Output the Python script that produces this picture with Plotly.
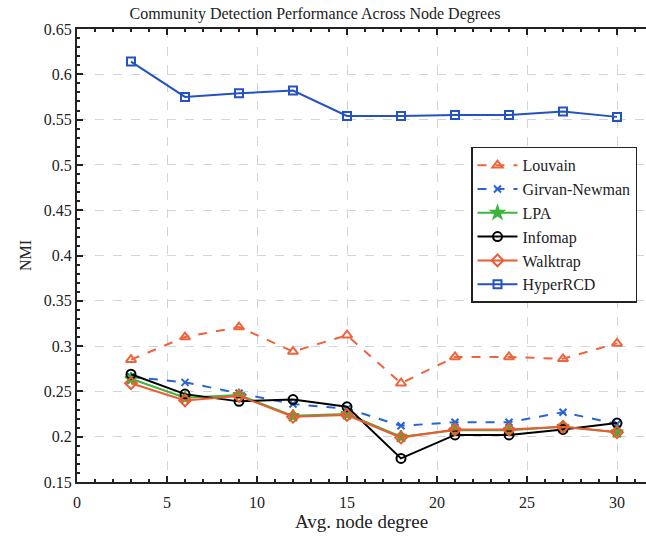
import plotly.graph_objects as go

degrees = [3, 6, 9, 12, 15, 18, 21, 24, 27, 30]
louvain = [0.285, 0.310, 0.321, 0.294, 0.312, 0.259, 0.288, 0.288, 0.286, 0.303]
girvan_newman = [0.266, 0.260, 0.248, 0.236, 0.231, 0.212, 0.216, 0.216, 0.227, 0.214]
lpa = [0.264, 0.243, 0.246, 0.223, 0.225, 0.200, 0.207, 0.207, 0.211, 0.205]
infomap = [0.269, 0.247, 0.239, 0.241, 0.233, 0.176, 0.202, 0.202, 0.208, 0.215]
walktrap = [0.259, 0.240, 0.245, 0.222, 0.224, 0.199, 0.208, 0.208, 0.211, 0.205]
hyperrcd = [0.614, 0.575, 0.579, 0.582, 0.554, 0.554, 0.555, 0.555, 0.559, 0.553]

x_ticks = [0, 5, 10, 15, 20, 25, 30]
y_ticks = [0.15, 0.2, 0.25, 0.3, 0.35, 0.4, 0.45, 0.5, 0.55, 0.6, 0.65]

series = [
    ("Louvain", louvain, "#f0643c", "dash", "triangle-up-open", 9),
    ("Girvan-Newman", girvan_newman, "#2a64d2", "dash", "x-thin-open", 7),
    ("LPA", lpa, "#3cb43c", "solid", "star", 9),
    ("Infomap", infomap, "#000000", "solid", "circle-open", 9),
    ("Walktrap", walktrap, "#f05a32", "solid", "diamond-open", 9),
    ("HyperRCD", hyperrcd, "#2452c0", "solid", "square-open", 8),
]

fig = go.Figure()
for name, vals, color, dash, sym, size in series:
    fig.add_trace(go.Scatter(
        x=degrees, y=vals, name=name, mode="lines+markers",
        line=dict(color=color, width=2, dash=dash),
        marker=dict(symbol=sym, size=size, color=color,
                    line=dict(color=color, width=2)),
    ))

font = "Liberation Serif, DejaVu Serif, serif"
W = 646
L = 77
fig.update_layout(
    width=W, height=538,
    margin=dict(l=L, r=0, t=29, b=56),
    plot_bgcolor="white", paper_bgcolor="white",
    font=dict(family=font, size=16, color="#222222"),
    title=dict(text="Community Detection Performance Across Node Degrees",
               xref="paper", x=(315 - L) / (W - L), xanchor="center",
               y=0.975, yanchor="middle",
               font=dict(size=16, family=font)),
    legend=dict(x=(471 - L) / (W - L), y=0.74, xanchor="left", yanchor="top",
                bgcolor="white", bordercolor="#222222", borderwidth=1.5,
                font=dict(size=16, family=font), tracegroupgap=0,
                itemwidth=40),
    showlegend=True,
)
fig.update_xaxes(
    range=[0, (W - L) / 18.0], tickvals=x_ticks, ticktext=[str(v) for v in x_ticks],
    showline=True, linecolor="#222222", linewidth=2, mirror="ticks",
    ticks="inside", ticklen=6, tickcolor="#222222", tickwidth=1.5,
    ticklabelstandoff=5,
    minor=dict(dtick=1, ticks="inside", ticklen=3, tickcolor="#222222", showgrid=False),
    showgrid=True, gridcolor="#ccd6e0", griddash="dash", gridwidth=1,
    zeroline=False,
    title=dict(text="Avg. node degree", font=dict(size=19, family=font), standoff=2),
)
fig.update_yaxes(
    range=[0.15, 0.65], tickvals=y_ticks, ticktext=[f"{v:g}" for v in y_ticks],
    showline=True, linecolor="#222222", linewidth=2, mirror=False,
    ticks="inside", ticklen=6, tickcolor="#222222", tickwidth=1.5,
    minor=dict(dtick=0.01, ticks="inside", ticklen=3, tickcolor="#222222", showgrid=False),
    showgrid=True, gridcolor="#ccd6e0", griddash="dash", gridwidth=1,
    zeroline=False,
    title=dict(text="NMI", font=dict(size=16, family=font), standoff=8),
)

fig.write_html("out.html", config={"displayModeBar": False})
